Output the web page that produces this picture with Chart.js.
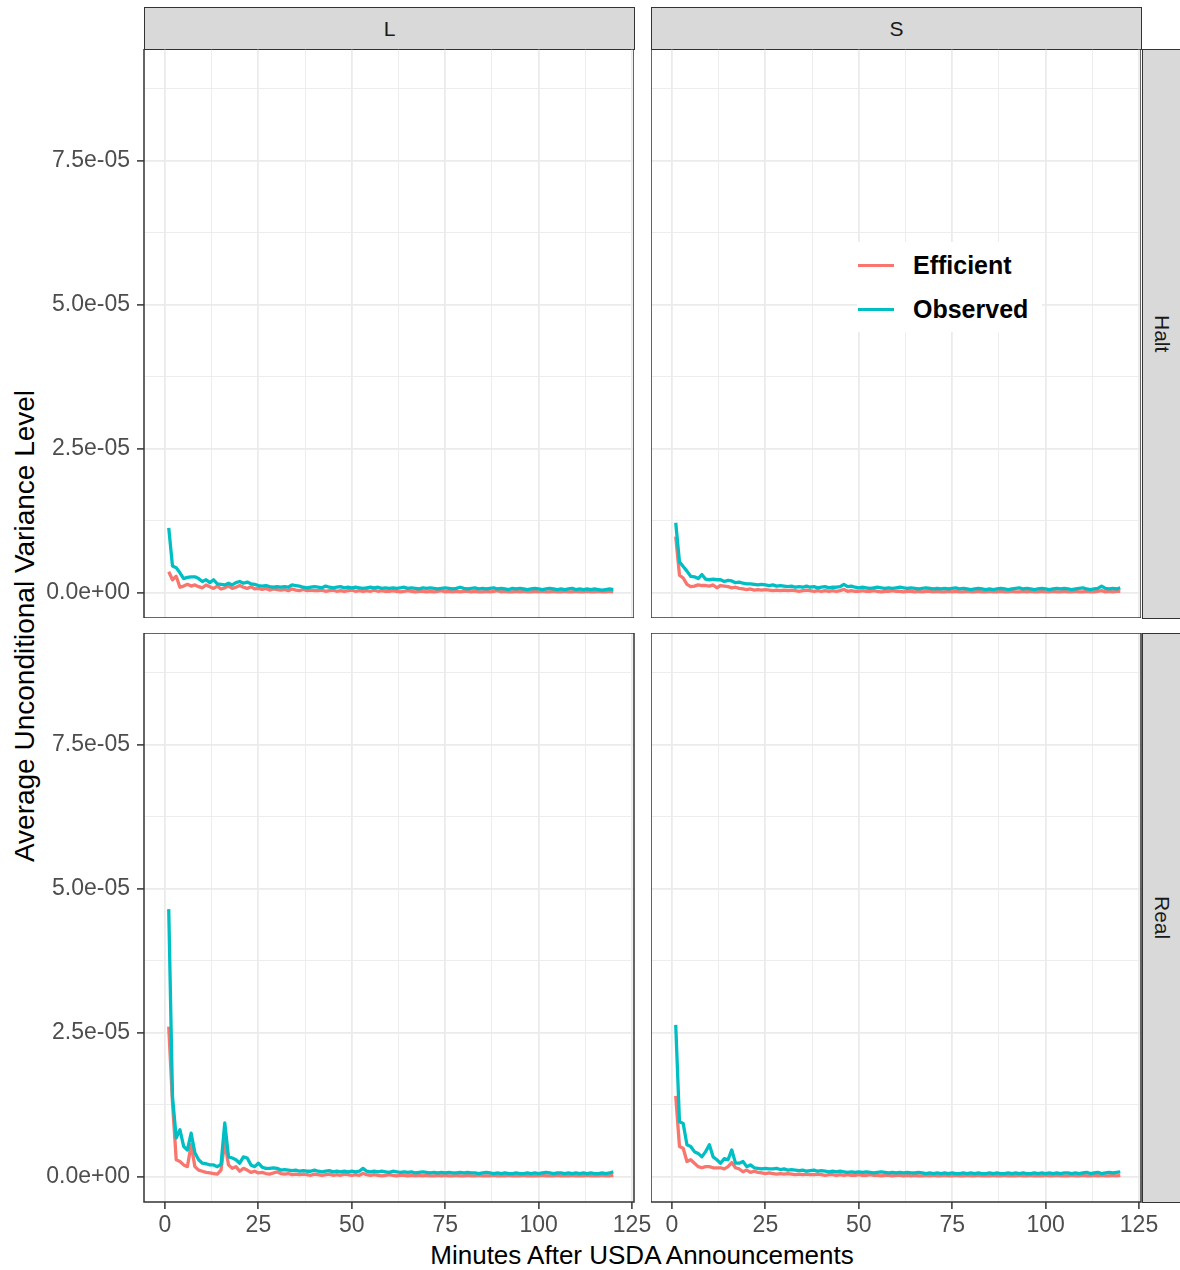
<!DOCTYPE html>
<html>
<head>
<meta charset="utf-8">
<script src="https://cdn.jsdelivr.net/npm/chart.js@4.4.1/dist/chart.umd.min.js"></script>
<style>
  html, body { margin: 0; padding: 0; background: #fff; }
  #fig { position: relative; width: 1180px; height: 1270px; overflow: hidden;
         font-family: "Liberation Sans", Arial, sans-serif; background: #fff; }
  #fig canvas { position: absolute; }
  .strip { position: absolute; background: #D9D9D9; border: 1.5px solid #333; box-sizing: border-box;
           color: #1A1A1A; font-size: 21px; display: flex; align-items: center; justify-content: center; }
  .strip.side { border-right: none; }
  .strip.side span { writing-mode: vertical-rl; }
  .title { position: absolute; color: #000; white-space: nowrap; }
  #legend { position: absolute; left: 857px; top: 242px; width: 185px; height: 90px; background: #fff; }
  .key { position: absolute; left: 1px; width: 36px; height: 3px; }
  .lab { position: absolute; left: 56px; font-size: 25px; font-weight: bold; color: #000; line-height: 30px; }
</style>
</head>
<body>
<div id="fig">
  <div class="strip" style="left:144px;top:7px;width:491px;height:43px;">L</div>
  <div class="strip" style="left:651px;top:7px;width:491px;height:43px;">S</div>
  <div class="strip side" style="left:1142px;top:49px;width:38px;height:570px;"><span>Halt</span></div>
  <div class="strip side" style="left:1142px;top:633px;width:38px;height:570px;"><span>Real</span></div>
  <div class="title" style="left:25px;top:626px;font-size:28px;transform:translate(-50%,-50%) rotate(-90deg);">Average Unconditional Variance Level</div>
  <div class="title" style="left:642px;top:1255px;font-size:26px;transform:translate(-50%,-50%);">Minutes After USDA Announcements</div>
</div>
<script>
// Series values, in units of 1e-6, for minutes 1..120 after the announcement
const SCALE = 1e-6;
const seriesNames = ['Efficient', 'Observed'];
const seriesColors = ['#F8766D', '#00BFC4'];
const colFacets = ['L', 'S'];
const rowFacets = ['Halt', 'Real'];

const haltL_eff = [3.7,2.3,2.9,1.0,1.2,1.5,1.2,1.4,1.1,0.9,
 1.4,1.1,0.8,1.2,0.7,0.9,1.2,0.8,1.0,1.3,
 1.0,0.8,1.1,0.7,0.8,0.6,0.8,0.5,0.7,0.6,
 0.5,0.6,0.4,0.7,0.5,0.4,0.6,0.4,0.5,0.4,
 0.4,0.5,0.3,0.4,0.5,0.3,0.4,0.3,0.4,0.5,
 0.3,0.4,0.3,0.4,0.3,0.5,0.3,0.4,0.3,0.3,
 0.4,0.3,0.2,0.3,0.4,0.3,0.2,0.3,0.3,0.2,
 0.3,0.2,0.3,0.4,0.2,0.3,0.2,0.3,0.2,0.3,
 0.3,0.2,0.3,0.2,0.2,0.3,0.2,0.3,0.4,0.2,
 0.3,0.2,0.2,0.3,0.2,0.3,0.2,0.2,0.3,0.2,
 0.3,0.2,0.2,0.3,0.2,0.2,0.3,0.2,0.2,0.3,
 0.2,0.2,0.3,0.2,0.2,0.3,0.2,0.2,0.3,0.2];

const haltL_obs = [11.3,4.7,4.4,3.5,2.5,2.7,2.8,2.8,2.5,2.0,
 2.3,1.8,2.3,1.6,1.5,1.4,1.7,1.4,1.8,2.0,
 1.7,1.9,1.6,1.5,1.3,1.2,1.3,1.1,1.0,1.1,
 1.0,1.1,1.0,1.4,1.3,1.2,1.0,0.9,1.0,1.1,
 1.0,0.9,1.2,1.0,0.9,1.0,1.1,0.9,1.0,0.9,
 1.0,0.9,0.8,0.9,1.0,0.9,1.0,0.8,0.9,0.8,
 0.9,0.8,0.9,1.0,0.8,0.9,0.8,0.7,0.9,0.8,
 0.9,0.8,0.7,0.8,0.9,0.8,0.7,0.8,1.0,0.8,
 0.7,0.8,0.9,0.7,0.8,0.7,0.8,0.9,0.7,0.8,
 0.7,0.6,0.8,0.7,0.8,0.7,0.6,0.7,0.8,0.7,
 0.6,0.7,0.8,0.7,0.6,0.7,0.6,0.7,0.8,0.6,
 0.7,0.6,0.7,0.6,0.7,0.6,0.5,0.6,0.7,0.6];

const haltS_eff = [9.8,3.1,2.6,1.5,1.1,1.2,1.4,1.3,1.3,1.2,
 1.4,0.9,1.3,1.2,1.1,0.9,1.0,0.8,0.7,0.6,
 0.7,0.5,0.6,0.5,0.6,0.5,0.4,0.5,0.4,0.5,
 0.4,0.5,0.4,0.3,0.4,0.5,0.4,0.3,0.4,0.3,
 0.4,0.3,0.4,0.3,0.4,0.6,0.3,0.4,0.3,0.3,
 0.4,0.3,0.3,0.4,0.3,0.2,0.3,0.3,0.4,0.3,
 0.3,0.2,0.3,0.3,0.2,0.3,0.2,0.3,0.3,0.2,
 0.3,0.2,0.2,0.3,0.2,0.3,0.2,0.2,0.3,0.2,
 0.2,0.3,0.2,0.2,0.3,0.2,0.2,0.3,0.2,0.2,
 0.3,0.2,0.2,0.3,0.2,0.3,0.2,0.2,0.3,0.2,
 0.2,0.3,0.2,0.2,0.3,0.2,0.2,0.3,0.2,0.2,
 0.3,0.2,0.2,0.3,0.4,0.2,0.3,0.2,0.3,0.3];

const haltS_obs = [12.2,5.4,4.6,3.8,2.9,2.8,2.5,3.2,2.4,2.3,
 2.4,2.3,2.3,2.0,2.2,2.1,1.8,1.9,1.7,1.6,
 1.6,1.5,1.4,1.5,1.4,1.3,1.4,1.2,1.3,1.2,
 1.1,1.2,1.0,1.1,1.0,1.2,1.0,1.1,0.9,1.0,
 1.1,0.9,1.0,1.0,1.1,1.5,1.1,1.2,1.0,0.9,
 1.0,0.9,0.8,0.9,1.0,0.9,0.8,0.9,0.8,0.9,
 1.0,0.9,0.8,0.9,0.8,0.7,0.8,0.9,0.8,0.7,
 0.8,0.7,0.8,0.7,0.8,0.9,0.7,0.8,0.7,0.6,
 0.7,0.8,0.7,0.6,0.7,0.6,0.7,0.8,0.7,0.6,
 0.7,0.8,0.9,0.7,0.8,0.7,0.6,0.7,0.8,0.7,
 0.6,0.7,0.8,0.7,0.8,0.7,0.6,0.7,0.8,0.9,
 0.7,0.6,0.7,0.8,1.2,0.8,0.7,0.8,0.7,0.9];

const realL_eff = [26.1,13.0,3.0,2.7,2.1,1.8,5.6,1.8,1.2,1.0,
 0.8,0.7,0.6,0.5,1.2,6.1,2.1,1.5,1.8,1.0,
 1.5,1.2,0.8,1.0,0.7,0.8,0.6,0.5,0.7,0.9,
 0.6,0.5,0.6,0.4,0.5,0.4,0.5,0.4,0.3,0.5,
 0.4,0.3,0.4,0.5,0.3,0.4,0.3,0.5,0.4,0.3,
 0.4,0.3,0.6,0.4,0.3,0.4,0.3,0.2,0.3,0.4,
 0.3,0.2,0.3,0.3,0.2,0.3,0.2,0.3,0.2,0.3,
 0.2,0.2,0.3,0.2,0.3,0.2,0.2,0.3,0.2,0.2,
 0.3,0.2,0.2,0.3,0.2,0.2,0.2,0.3,0.2,0.2,
 0.2,0.3,0.2,0.2,0.2,0.3,0.2,0.2,0.2,0.2,
 0.3,0.2,0.2,0.2,0.3,0.2,0.2,0.2,0.3,0.2,
 0.2,0.2,0.3,0.2,0.2,0.2,0.3,0.2,0.2,0.3];

const realL_obs = [46.5,14.0,6.8,8.2,5.3,4.7,7.6,4.2,3.0,2.4,
 2.3,2.1,2.1,1.8,2.2,9.4,3.5,3.3,3.0,2.4,
 3.5,3.3,2.1,1.8,2.4,1.7,1.5,1.5,1.6,1.5,
 1.2,1.3,1.2,1.1,1.2,1.0,1.1,1.0,1.0,1.2,
 1.0,0.9,1.0,1.1,0.9,1.0,0.9,1.0,0.9,1.0,
 0.9,1.0,1.5,1.0,0.9,1.0,0.9,1.0,0.9,0.8,
 1.0,0.9,0.8,0.9,0.8,0.9,0.7,0.8,0.9,0.8,
 0.7,0.8,0.7,0.8,0.7,0.8,0.7,0.7,0.8,0.7,
 0.8,0.7,0.7,0.6,0.7,0.8,0.7,0.6,0.7,0.6,
 0.7,0.6,0.6,0.7,0.6,0.6,0.7,0.6,0.7,0.6,
 0.7,0.8,0.7,0.6,0.7,0.7,0.6,0.7,0.6,0.7,
 0.6,0.7,0.6,0.7,0.6,0.6,0.7,0.6,0.7,0.9];

const realS_eff = [14.1,5.3,5.0,2.7,3.0,2.4,1.8,1.6,1.8,1.8,
 1.6,1.6,1.6,1.4,1.8,2.5,1.6,1.4,0.9,1.2,
 0.8,1.0,0.8,0.7,0.6,0.7,0.6,0.5,0.6,0.5,
 0.6,0.5,0.4,0.5,0.4,0.5,0.4,0.4,0.5,0.4,
 0.3,0.4,0.4,0.3,0.4,0.3,0.4,0.3,0.3,0.4,
 0.3,0.3,0.4,0.3,0.3,0.2,0.3,0.3,0.2,0.3,
 0.3,0.2,0.3,0.2,0.3,0.2,0.2,0.3,0.2,0.3,
 0.2,0.2,0.3,0.2,0.2,0.3,0.2,0.2,0.3,0.2,
 0.2,0.3,0.2,0.2,0.2,0.3,0.2,0.2,0.3,0.2,
 0.2,0.2,0.3,0.2,0.2,0.3,0.2,0.2,0.2,0.3,
 0.2,0.2,0.3,0.2,0.2,0.2,0.3,0.2,0.2,0.3,
 0.2,0.2,0.3,0.2,0.3,0.2,0.2,0.3,0.2,0.3];

const realS_obs = [26.4,9.6,9.3,5.6,5.3,4.4,4.1,3.5,4.4,5.6,
 3.5,3.0,2.4,3.2,3.0,4.7,2.4,2.4,2.7,1.8,
 2.1,1.6,1.5,1.4,1.5,1.4,1.4,1.5,1.3,1.4,
 1.2,1.3,1.2,1.1,1.2,1.0,1.1,1.2,1.0,1.1,
 1.0,0.9,1.0,0.9,1.0,0.9,0.8,0.9,0.8,0.9,
 0.8,0.9,0.8,0.7,0.8,0.9,0.8,0.7,0.8,0.7,
 0.8,0.7,0.8,0.7,0.7,0.8,0.7,0.6,0.7,0.6,
 0.7,0.6,0.7,0.6,0.7,0.6,0.6,0.7,0.6,0.7,
 0.6,0.7,0.6,0.6,0.7,0.6,0.7,0.6,0.6,0.7,
 0.6,0.7,0.6,0.7,0.6,0.6,0.7,0.6,0.7,0.6,
 0.7,0.6,0.7,0.6,0.7,0.7,0.6,0.7,0.6,0.7,
 0.8,0.6,0.7,0.8,0.6,0.7,0.8,0.7,0.8,0.9];

// Axis breaks and labels
const xMajor = [0, 25, 50, 75, 100, 125];
const xMajorLabels = ['0', '25', '50', '75', '100', '125'];
const xMinor = [12.5, 37.5, 62.5, 87.5, 112.5];
const yMajor = [0, 2.5e-5, 5.0e-5, 7.5e-5];
const yMajorLabels = ['0.0e+00', '2.5e-05', '5.0e-05', '7.5e-05'];
const yMinor = [1.25e-5, 3.75e-5, 6.25e-5, 8.75e-5];
const xLimits = [-5.62, 125.54];
const yLimits = [-0.434e-5, 9.444e-5];

const minutes = Array.from({ length: haltL_eff.length }, (_, i) => i + 1);

// Facet grid: rows = Halt/Real, columns = L/S
const panels = [
  { row: 0, col: 0, series: [haltL_eff, haltL_obs] },
  { row: 0, col: 1, series: [haltS_eff, haltS_obs] },
  { row: 1, col: 0, series: [realL_eff, realL_obs] },
  { row: 1, col: 1, series: [realS_eff, realS_obs] }
];

const FONT = '"Liberation Sans", Arial, sans-serif';
const GRID = '#EBEBEB';
const INK = '#333333';
const TICK_FONT = 23;

const panelFrame = {
  id: 'panelFrame',
  afterDraw(chart) {
    const { ctx, chartArea: a } = chart;
    ctx.save();
    ctx.strokeStyle = INK;
    ctx.lineWidth = 1.5;
    ctx.strokeRect(a.left, a.top, a.right - a.left, a.bottom - a.top);
    ctx.restore();
  }
};

function isMajorX(v) { return xMajor.some(m => Math.abs(m - v) < 1e-9); }
function isMajorY(v) { return yMajor.some(m => Math.abs(m - v) < 1e-12); }

// Force each scale to an exact size with no label overhang, so the plot area fills the panel
function pinScale(s, size, horizontal) {
  if (horizontal) s.height = size; else s.width = size;
  s.paddingTop = 0; s.paddingBottom = 0; s.paddingLeft = 0; s.paddingRight = 0;
}

const fig = document.getElementById('fig');
const PANEL_W = 490, PANEL_H = 569;
const LEFT_AXIS = 144, BOTTOM_AXIS = 50, RIGHT_ROOM = 30;

panels.forEach(p => {
  const showY = p.col === 0;
  const showX = p.row === 1;
  const panelLeft = p.col === 0 ? 144 : 651;
  const panelTop = p.row === 0 ? 49 : 633;
  const leftPad = showY ? LEFT_AXIS : 0;
  const bottomPad = showX ? BOTTOM_AXIS : 0;
  const rightPad = showX ? RIGHT_ROOM : 0;   // room for the last x label
  const w = PANEL_W + leftPad + rightPad, h = PANEL_H + bottomPad;

  const canvas = document.createElement('canvas');
  canvas.width = w; canvas.height = h;
  canvas.style.width = w + 'px'; canvas.style.height = h + 'px';
  canvas.style.left = (panelLeft - leftPad) + 'px';
  canvas.style.top = panelTop + 'px';
  fig.appendChild(canvas);

  const datasets = p.series.map((vals, i) => ({
    label: seriesNames[i],
    data: minutes.map((m, k) => ({ x: m, y: vals[k] * SCALE })),
    borderColor: seriesColors[i],
    backgroundColor: seriesColors[i],
    borderWidth: 3.3,
    pointRadius: 0,
    tension: 0,
    borderJoinStyle: 'round',
    order: i === 0 ? 1 : 0
  }));

  new Chart(canvas, {
    type: 'line',
    data: { datasets },
    plugins: [panelFrame],
    options: {
      responsive: false,
      animation: false,
      devicePixelRatio: 1,
      layout: { padding: { left: 0, top: 0, bottom: 0, right: rightPad } },
      plugins: { legend: { display: false }, tooltip: { enabled: false } },
      scales: {
        x: {
          type: 'linear',
          min: xLimits[0], max: xLimits[1],
          afterBuildTicks: s => { s.ticks = xMajor.concat(xMinor).sort((a, b) => a - b).map(v => ({ value: v })); },
          afterFit: s => pinScale(s, bottomPad, true),
          border: { display: false },
          grid: {
            color: GRID,
            lineWidth: c => (c.tick && isMajorX(c.tick.value)) ? 1.8 : 0.9,
            drawTicks: showX,
            tickLength: 7,
            tickColor: c => (c.tick && isMajorX(c.tick.value)) ? INK : 'rgba(0,0,0,0)',
            tickWidth: 1.5
          },
          ticks: {
            display: showX,
            autoSkip: false,
            maxRotation: 0,
            padding: 3,
            color: '#4D4D4D',
            font: { family: FONT, size: TICK_FONT },
            callback: v => { const i = xMajor.findIndex(m => Math.abs(m - v) < 1e-9); return i >= 0 ? xMajorLabels[i] : ''; }
          }
        },
        y: {
          type: 'linear',
          min: yLimits[0], max: yLimits[1],
          afterBuildTicks: s => { s.ticks = yMajor.concat(yMinor).sort((a, b) => a - b).map(v => ({ value: v })); },
          afterFit: s => pinScale(s, leftPad, false),
          border: { display: false },
          grid: {
            color: GRID,
            lineWidth: c => (c.tick && isMajorY(c.tick.value)) ? 1.8 : 0.9,
            drawTicks: showY,
            tickLength: 7,
            tickColor: c => (c.tick && isMajorY(c.tick.value)) ? INK : 'rgba(0,0,0,0)',
            tickWidth: 1.5
          },
          ticks: {
            display: showY,
            autoSkip: false,
            padding: 7,
            color: '#4D4D4D',
            font: { family: FONT, size: TICK_FONT },
            callback: v => { const i = yMajor.findIndex(m => Math.abs(m - v) < 1e-12); return i >= 0 ? yMajorLabels[i] : ''; }
          }
        }
      }
    }
  });
});

// Legend placed inside the upper-right panel
const legend = document.createElement('div');
legend.id = 'legend';
const keyY = [23, 67];
seriesNames.forEach((name, i) => {
  const key = document.createElement('div');
  key.className = 'key';
  key.style.top = (keyY[i] - 1.5) + 'px';
  key.style.background = seriesColors[i];
  const lab = document.createElement('div');
  lab.className = 'lab';
  lab.style.top = (keyY[i] - 15) + 'px';
  lab.textContent = name;
  legend.appendChild(key);
  legend.appendChild(lab);
});
fig.appendChild(legend);
</script>
</body>
</html>
